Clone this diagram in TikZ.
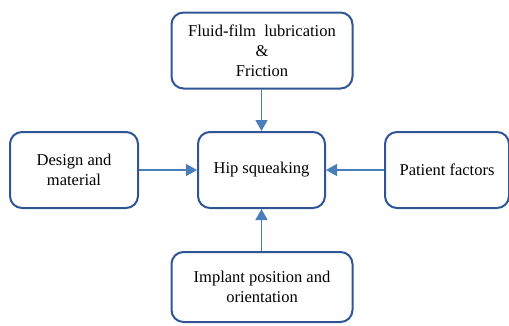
\documentclass[tikz,border=0pt]{standalone}
\usepackage{fontspec}
\setmainfont{Liberation Serif}
\usetikzlibrary{arrows.meta}
\definecolor{boxblue}{HTML}{2F5597}
\definecolor{arrblue}{HTML}{4A7EBB}
\begin{document}
\begin{tikzpicture}[x=1pt,y=-1pt,
  factor/.style={draw=boxblue,line width=2pt,rounded corners=12pt,fill=white,
    align=center,font=\fontsize{16.5}{20}\selectfont,inner sep=0pt},
  link/.style={draw=arrblue,line width=1.4pt,-{Triangle[length=11pt,width=12pt]}}]
\useasboundingbox (0,0) rectangle (509,325);
\node[factor,minimum width=181pt,minimum height=76pt] (fluid) at (262,50.5)
  {Fluid-film\ \ lubrication\\\&\\Friction};
\node[factor,minimum width=127pt,minimum height=76pt] (hip) at (261.5,170) {Hip squeaking};
\node[factor,minimum width=128pt,minimum height=76pt] (design) at (74,170) {Design and\\material};
\node[factor,minimum width=124pt,minimum height=76pt] (patient) at (447,170) {Patient factors};
\node[factor,minimum width=181pt,minimum height=70pt] (implant) at (262,287) {Implant position and\\orientation};
\draw[link] (fluid.south -| hip) -- (hip.north);
\draw[link] (implant.north -| hip) -- (hip.south);
\draw[link] (design) -- (hip);
\draw[link] (patient) -- (hip);
\end{tikzpicture}
\end{document}
